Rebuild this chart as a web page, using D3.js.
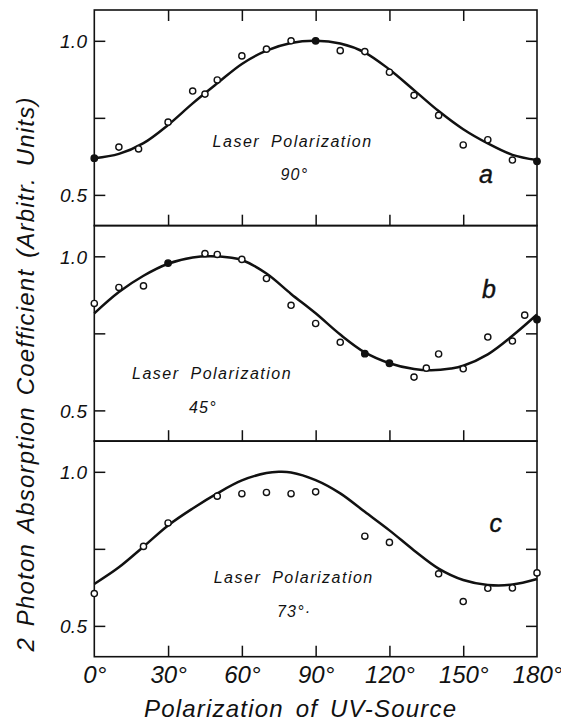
<!DOCTYPE html>
<html>
<head>
<meta charset="utf-8">
<script src="https://cdn.jsdelivr.net/npm/d3@7"></script>
<style>
  html, body { margin: 0; padding: 0; background: #fff; }
  svg { display: block; }
  text { font-family: "Liberation Sans", Arial, sans-serif; font-style: italic; fill: #111; }
</style>
</head>
<body>
<svg id="chart" width="561" height="725"></svg>
<script>
// ---------- data ----------
const xTickValues = [0, 30, 60, 90, 120, 150, 180];
const yTickValues = [0.5, 0.75, 1.0];
const yTickLabels = ["0.5", "", "1.0"];
const panelLetters = ["a", "b", "c"];
const laserAngles = ["90°", "45°", "73°·"];
const laserLabel = "Laser Polarization";
const xTitle = "Polarization of UV-Source";
const yTitle = "2 Photon Absorption Coefficient (Arbitr. Units)";

// panel a (laser 90°)
const aPointAngles = [0, 10, 18, 30, 40, 45, 50, 60, 70, 80, 90, 100, 110, 120, 130, 140, 150, 160, 170, 180];
const aPointValues = [0.619, 0.655, 0.649, 0.736, 0.837, 0.827, 0.873, 0.951, 0.973, 1.0, 1.0, 0.968, 0.965, 0.898, 0.823, 0.758, 0.662, 0.679, 0.613, 0.609];
const aFilled = [0, 90, 180];
const aCurveAngles = [0, 10, 20, 30, 40, 50, 60, 70, 80, 90, 100, 110, 120, 130, 140, 150, 160, 170, 180];
const aCurveValues = [0.619, 0.633, 0.668, 0.727, 0.797, 0.862, 0.925, 0.968, 0.993, 1.0, 0.991, 0.962, 0.907, 0.840, 0.772, 0.713, 0.667, 0.630, 0.613];

// panel b (laser 45°)
const bPointAngles = [0, 10, 20, 30, 45, 50, 60, 70, 80, 90, 100, 110, 120, 130, 135, 140, 150, 160, 170, 175, 180];
const bPointValues = [0.847, 0.899, 0.904, 0.978, 1.009, 1.006, 0.990, 0.928, 0.841, 0.782, 0.721, 0.684, 0.653, 0.608, 0.637, 0.683, 0.635, 0.738, 0.725, 0.809, 0.795];
const bFilled = [30, 110, 120, 180];
const bCurveAngles = [0, 10, 20, 30, 40, 47, 55, 60, 70, 80, 90, 100, 110, 120, 130, 137, 145, 150, 160, 170, 180];
const bCurveValues = [0.815, 0.884, 0.937, 0.976, 0.996, 1.0, 0.996, 0.988, 0.944, 0.878, 0.815, 0.746, 0.688, 0.653, 0.634, 0.630, 0.636, 0.645, 0.682, 0.742, 0.811];

// panel c (laser 73°)
const cPointAngles = [0, 20, 30, 50, 60, 70, 80, 90, 110, 120, 140, 150, 160, 170, 180];
const cPointValues = [0.605, 0.758, 0.834, 0.921, 0.929, 0.933, 0.929, 0.935, 0.791, 0.771, 0.669, 0.579, 0.622, 0.623, 0.672];
const cFilled = [];
const cCurveAngles = [0, 10, 20, 30, 40, 50, 60, 70, 75, 80, 90, 100, 110, 120, 130, 140, 150, 160, 170, 180];
const cCurveValues = [0.636, 0.690, 0.757, 0.826, 0.881, 0.930, 0.972, 0.996, 1.0, 0.998, 0.973, 0.930, 0.870, 0.810, 0.745, 0.686, 0.649, 0.633, 0.634, 0.652];

// ---------- layout ----------
const svg = d3.select("#chart");
const left = 94.3, right = 537;
const panelTops = [10, 225.5, 441];
const panelH = 215.7;
const ink = "#111";

const x = d3.scaleLinear().domain([0, 180]).range([left, right]);

const panels = [
  { pa: aPointAngles, pv: aPointValues, filled: aFilled, ca: aCurveAngles, cv: aCurveValues,
    lab: [212.6, 146.7], deg: [280.5, 180], letter: [479, 182.7] },
  { pa: bPointAngles, pv: bPointValues, filled: bFilled, ca: bCurveAngles, cv: bCurveValues,
    lab: [132, 379.3], deg: [189, 412.7], letter: [482, 298.3] },
  { pa: cPointAngles, pv: cPointValues, filled: cFilled, ca: cCurveAngles, cv: cCurveValues,
    lab: [213.7, 583], deg: [277, 616.7], letter: [489.5, 531.7] }
];

panels.forEach((p, i) => {
  const top = panelTops[i];
  const y = d3.scaleLinear().domain([0.4, 1.1]).range([top + panelH, top]);
  const g = svg.append("g");

  // frame
  g.append("rect").attr("x", left).attr("y", top).attr("width", right - left).attr("height", panelH)
    .attr("fill", "none").attr("stroke", ink).attr("stroke-width", 1.6);

  // bottom ticks (inward)
  const axB = g.append("g").attr("transform", `translate(0,${top + panelH})`)
    .call(d3.axisBottom(x).tickValues(xTickValues.slice(1, -1)).tickSize(-11).tickFormat(""));
  axB.select(".domain").remove();
  axB.selectAll("line").attr("stroke", ink).attr("stroke-width", 1.5);

  if (i === 0) {
    const axT = g.append("g").attr("transform", `translate(0,${top})`)
      .call(d3.axisTop(x).tickValues(xTickValues.slice(1, -1)).tickSize(-11).tickFormat(""));
    axT.select(".domain").remove();
    axT.selectAll("line").attr("stroke", ink).attr("stroke-width", 1.5);
  }

  // left / right ticks
  const axL = g.append("g").attr("transform", `translate(${left},0)`)
    .call(d3.axisLeft(y).tickValues(yTickValues).tickSize(-11).tickPadding(18)
      .tickFormat((d, k) => yTickLabels[k]));
  axL.select(".domain").remove();
  axL.selectAll("line").attr("stroke", ink).attr("stroke-width", 1.5);
  axL.selectAll("text").attr("font-size", 19).attr("letter-spacing", 0.3)
    .attr("font-family", "Liberation Sans, Arial, sans-serif").attr("font-style", "italic")
    .attr("fill", ink).attr("dy", "0.36em").attr("x", -7).attr("text-anchor", "end");

  const axR = g.append("g").attr("transform", `translate(${right},0)`)
    .call(d3.axisRight(y).tickValues(yTickValues).tickSize(-11).tickFormat(""));
  axR.select(".domain").remove();
  axR.selectAll("line").attr("stroke", ink).attr("stroke-width", 1.5);

  // curve
  const line = d3.line().x(d => x(d[0])).y(d => y(d[1])).curve(d3.curveCatmullRom.alpha(0.5));
  g.append("path").datum(d3.zip(p.ca, p.cv)).attr("d", line)
    .attr("fill", "none").attr("stroke", ink).attr("stroke-width", 2.5).attr("stroke-linejoin", "round");

  // points
  const pts = d3.zip(p.pa, p.pv);
  g.selectAll("circle.pt").data(pts).join("circle").attr("class", "pt")
    .attr("cx", d => x(d[0])).attr("cy", d => y(d[1]))
    .attr("r", d => p.filled.includes(d[0]) ? 3.2 : 3.1)
    .attr("fill", d => p.filled.includes(d[0]) ? ink : "#fff")
    .attr("stroke", ink).attr("stroke-width", 1.4);

  // texts
  g.append("text").attr("x", p.lab[0]).attr("y", p.lab[1]).attr("font-size", 16)
    .attr("letter-spacing", 1.5).attr("word-spacing", 5).text(laserLabel);
  g.append("text").attr("x", p.deg[0]).attr("y", p.deg[1]).attr("font-size", 16)
    .attr("letter-spacing", 1.2).text(laserAngles[i]);
  g.append("text").attr("x", p.letter[0]).attr("y", p.letter[1]).attr("font-size", 25)
    .attr("stroke", ink).attr("stroke-width", 0.4).text(panelLetters[i]);

  // x tick labels on bottom panel
  if (i === 2) {
    const axX = g.append("g").attr("transform", `translate(0,${top + panelH})`)
      .call(d3.axisBottom(x).tickValues(xTickValues).tickSize(0).tickFormat(d => d + "°"));
    axX.select(".domain").remove();
    axX.selectAll("text").attr("font-size", 24).attr("font-family", "Liberation Sans, Arial, sans-serif")
      .attr("font-style", "italic").attr("fill", ink).attr("y", 26.5).attr("dy", 0);
  }
});

// axis titles
svg.append("text").attr("x", 300.6).attr("y", 716.5).attr("text-anchor", "middle")
  .attr("font-size", 24).attr("letter-spacing", 1.2).attr("word-spacing", 4).text(xTitle);
svg.append("text").attr("transform", "translate(34,374) rotate(-90)").attr("text-anchor", "middle")
  .attr("font-size", 24).attr("letter-spacing", 1.2).attr("word-spacing", 3).text(yTitle);
</script>
</body>
</html>
